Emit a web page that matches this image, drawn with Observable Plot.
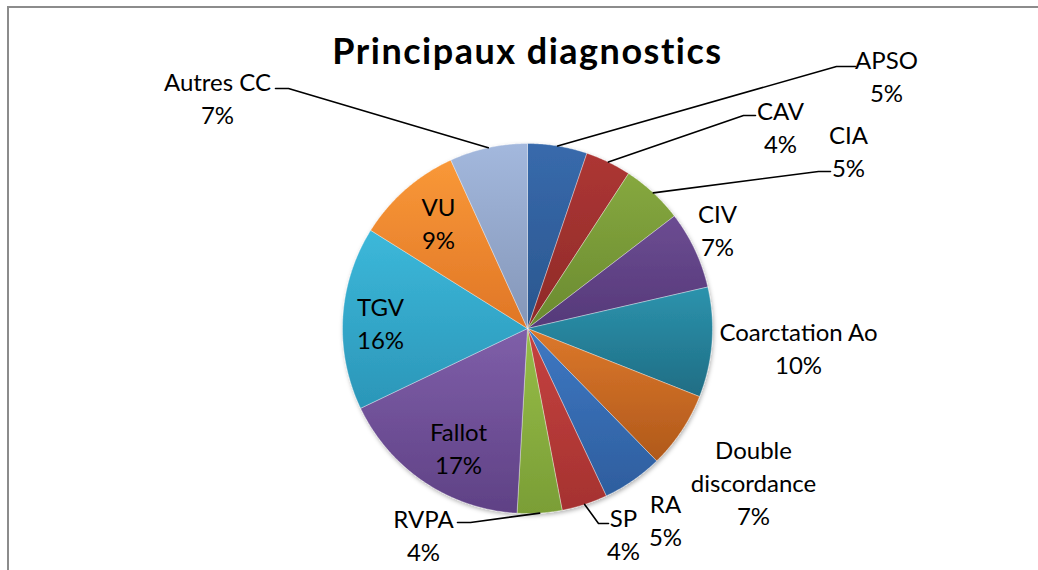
<!DOCTYPE html>
<html>
<head>
<meta charset="utf-8">
<script src="https://cdn.jsdelivr.net/npm/d3@7"></script>
<script src="https://cdn.jsdelivr.net/npm/@observablehq/plot@0.6"></script>
<style>
  html, body { margin: 0; padding: 0; background: #fff; overflow: hidden; }
  #wrap { position: relative; width: 1038px; height: 570px; }
  #border { position: absolute; left: 7px; top: 6px; width: 1200px; height: 800px;
            border-left: 2px solid #8c8c8c; border-top: 2px solid #8c8c8c; pointer-events: none; }
  #chart { position: absolute; left: 0; top: 0; }
</style>
</head>
<body>
<div id="wrap"><div id="chart"></div><div id="border"></div></div>
<script>
// ---- data ----
const title = "Principaux diagnostics";
const categories = ["APSO", "CAV", "CIA", "CIV", "Coarctation Ao", "Double discordance", "RA", "SP", "RVPA", "Fallot", "TGV", "VU", "Autres CC"];
const shares = [5.2, 4.0, 5.4, 6.8, 9.6, 6.7, 5.3, 4.0, 3.9, 17.0, 16.0, 9.3, 6.8];
const labelNames = ["APSO", "CAV", "CIA", "CIV", "Coarctation Ao", "Double\ndiscordance", "RA", "SP", "RVPA", "Fallot", "TGV", "VU", "Autres CC"];

// ---- styles ----
const topColors    = ["#386aac", "#ad3634", "#86a83f", "#6c4c92", "#2c93ad", "#dc782b", "#3e78c3", "#c64240", "#97bd48", "#7f5fa9", "#3cb8da", "#f99838", "#a3b8dd"];
const bottomColors = ["#2a568e", "#8e2a28", "#6a8a30", "#553979", "#1f6d84", "#b0591b", "#2e5e9e", "#a53230", "#7a9e36", "#5f4185", "#2b96b8", "#e07626", "#8496b8"];

// ---- layout (pixel offsets from the pie centre) ----
const W = 1038, H = 570, CX = 527, CY = 328, R = 185;
const labelOffsets = [[359,-254],[253,-203],[321,-179],[190,-100],[271,18],[226,153],[138,190],[96,204],[-104,205],[-69,118],[-147,-7],[-89,-107],[-310,-232]];
const leaderLayout = [
  {i: 0,  pts: [[309,-262],[328,-262]]},
  {i: 1,  pts: [[216,-213],[228,-213]]},
  {i: 2,  pts: [[291,-157],[303,-157]]},
  {i: 7,  pts: [[71,195],[81,195]]},
  {i: 8,  pts: [[-57,194],[-70,194]]},
  {i: 12, pts: [[-239,-240],[-252,-240]]}
];

const total = d3.sum(shares);
const arcs = d3.pie().sort(null).value(d => d)(shares);

const slicePoints = arcs.flatMap((a, i) => {
  const n = Math.max(2, Math.ceil((a.endAngle - a.startAngle) / 0.008));
  const pts = [{cat: categories[i], x: 0, y: 0}];
  for (let k = 0; k <= n; k++) {
    const t = a.startAngle + (a.endAngle - a.startAngle) * k / n;
    pts.push({cat: categories[i], x: R * Math.sin(t), y: -R * Math.cos(t)});
  }
  pts.push({cat: categories[i], x: 0, y: 0});
  return pts;
});

const labels = categories.map((c, i) => ({
  cat: c,
  text: labelNames[i] + "\n" + Math.round(shares[i] / total * 100) + "%",
  x: labelOffsets[i][0],
  y: labelOffsets[i][1]
}));

const leaderPoints = leaderLayout.flatMap(({i, pts}) => {
  const a = arcs[i];
  const m = (a.startAngle + a.endAngle) / 2;
  return [
    {cat: categories[i], x: R * Math.sin(m), y: -R * Math.cos(m)},
    ...pts.map(([x, y]) => ({cat: categories[i], x, y}))
  ];
});

const chart = Plot.plot({
  width: W,
  height: H,
  margin: 0,
  style: {fontFamily: "Lato, 'Open Sans', sans-serif", background: "transparent"},
  x: {type: "linear", domain: [-CX, W - CX], range: [0, W], axis: null},
  y: {type: "linear", domain: [-CY, H - CY], range: [0, H], axis: null},
  color: {type: "ordinal", domain: categories, range: categories.map((_, i) => `url(#grad${i})`)},
  marks: [
    Plot.line(slicePoints, {x: "x", y: "y", z: "cat", fill: "cat", stroke: "#ffffff", strokeOpacity: 0.35, strokeWidth: 1, curve: "linear"}),
    Plot.line(leaderPoints, {x: "x", y: "y", z: "cat", stroke: "#000", strokeWidth: 1.6, curve: "linear"}),
    Plot.text(labels, {x: "x", y: "y", text: "text", fontSize: 24, lineHeight: 1.375, fill: "#000", lineAnchor: "middle", textAnchor: "middle"}),
    Plot.text([title], {frameAnchor: "top", dx: 8, dy: 52, text: d => d, fontSize: 36, fontWeight: "bold", fill: "#000", lineAnchor: "middle"})
  ]
});

const svg = d3.select(chart);
const defs = svg.insert("defs", ":first-child");
topColors.forEach((c, i) => {
  const g = defs.append("linearGradient").attr("id", `grad${i}`)
    .attr("x1", 0).attr("y1", 0).attr("x2", 0).attr("y2", 1);
  g.append("stop").attr("offset", "0%").attr("stop-color", c);
  g.append("stop").attr("offset", "100%").attr("stop-color", bottomColors[i]);
});
const f = defs.append("filter").attr("id", "pieShadow").attr("x", "-10%").attr("y", "-10%").attr("width", "120%").attr("height", "120%");
f.append("feDropShadow").attr("dx", 1).attr("dy", 2).attr("stdDeviation", 2).attr("flood-color", "#000").attr("flood-opacity", 0.3);
svg.select('g[aria-label="line"]').attr("filter", "url(#pieShadow)");
const textGroups = svg.selectAll('g[aria-label="text"]').nodes();
d3.select(textGroups[textGroups.length - 1]).attr("letter-spacing", "1.5px");

document.getElementById("chart").appendChild(chart);
</script>
</body>
</html>
